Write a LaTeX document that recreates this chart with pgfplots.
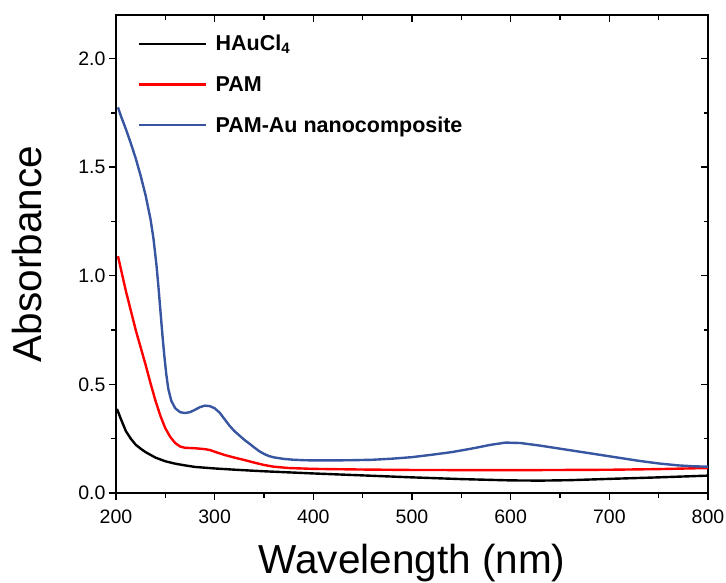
\documentclass[border=0pt]{standalone}
\usepackage{fontspec}
\setmainfont{Liberation Sans}
\usepackage{pgfplots}
\pgfplotsset{compat=1.18}
\definecolor{cblue}{RGB}{55,85,160}
\begin{document}
\begin{tikzpicture}
\begin{axis}[
  scale only axis, width=592pt, height=478pt,
  xmin=200, xmax=800, ymin=0, ymax=2.2,
  xtick={200,300,...,800}, ytick={0,0.5,...,2.0},
  minor x tick num=1, minor y tick num=1,
  xtick pos=left, ytick pos=left, tick align=outside,
  major tick length=7pt, minor tick length=4.5pt,
  axis line style={line width=1.6pt},
  every tick/.style={line width=1.5pt, black},
  /pgf/number format/assume math mode=true,
  ticklabel style={font=\fontsize{19.5}{21}\selectfont},
  yticklabel style={/pgf/number format/.cd, fixed, fixed zerofill, precision=1},
  xticklabel style={yshift=-6pt, /pgf/number format/.cd, fixed, precision=0},
  xlabel={Wavelength (nm)}, ylabel={Absorbance},
  label style={font=\fontsize{40.5}{42}\selectfont},
  xlabel style={at={(axis description cs:0.5,0)}, anchor=base, yshift=-80pt},
  ylabel style={at={(axis description cs:-0.125,0.5)}, anchor=base},
  legend style={at={(rel axis cs:0,1)}, anchor=north west, xshift=19pt, yshift=-16pt,
    draw=none, fill=none, font=\fontsize{21.5}{23}\selectfont\bfseries, row sep=20pt},
  legend cell align=left,
  legend image code/.code={\draw[#1] (0pt,0pt) -- (67pt,0pt); \path (73pt,0pt);},
]
\addplot[black, line width=2.4pt, line join=round] coordinates {
(201,0.387)(205,0.34)(210,0.285)(215,0.250)(220,0.222)(225,0.204)(230,0.188)(240,0.163)
(250,0.146)(260,0.135)(270,0.127)(280,0.120)(300,0.113)(325,0.106)(350,0.100)(400,0.090)
(450,0.081)(500,0.072)(550,0.064)(600,0.058)(630,0.057)(660,0.059)(700,0.065)(750,0.072)(800,0.080)};
\addlegendentry{HAuCl\textsubscript{4}}
\addplot[red, line width=2.4pt, line join=round] coordinates {
(202,1.09)(205,1.03)(210,0.93)(215,0.84)(220,0.75)(225,0.67)(230,0.59)(235,0.505)(240,0.425)
(245,0.355)(250,0.298)(255,0.258)(260,0.230)(265,0.214)(270,0.208)(280,0.206)(290,0.202)
(295,0.198)(300,0.190)(310,0.175)(320,0.163)(330,0.152)(340,0.140)(350,0.129)(360,0.121)
(375,0.115)(400,0.111)(450,0.108)(500,0.106)(600,0.105)(700,0.107)(750,0.110)(800,0.115)};
\addlegendentry{PAM}
\addplot[cblue, line width=2.4pt, line join=round] coordinates {
(202,1.775)(205,1.735)(210,1.675)(215,1.610)(220,1.540)(225,1.460)(230,1.370)(235,1.260)
(238,1.170)(241,1.050)(243,0.950)(245,0.840)(247,0.730)(249,0.630)(251,0.545)(253,0.480)
(256,0.425)(260,0.390)(265,0.372)(270,0.368)(275,0.372)(280,0.383)(285,0.395)(290,0.402)
(295,0.400)(300,0.390)(305,0.370)(310,0.340)(315,0.310)(320,0.285)(325,0.265)(330,0.245)
(335,0.228)(340,0.210)(345,0.193)(350,0.180)(355,0.170)(360,0.164)(370,0.157)(380,0.153)
(390,0.151)(400,0.150)(420,0.150)(440,0.151)(460,0.153)(480,0.158)(500,0.165)(520,0.176)
(540,0.188)(560,0.204)(580,0.222)(595,0.232)(610,0.230)(630,0.218)(650,0.204)(670,0.190)
(690,0.176)(710,0.162)(730,0.148)(750,0.136)(770,0.127)(785,0.123)(800,0.121)};
\addlegendentry{PAM-Au nanocomposite}
\end{axis}
\begin{axis}[
  scale only axis, width=592pt, height=478pt,
  xmin=200, xmax=800, ymin=0, ymax=2.2,
  xtick={200,300,...,800}, ytick={0,0.5,...,2.0},
  minor x tick num=1, minor y tick num=1,
  xtick pos=right, ytick pos=right, tick align=inside,
  major tick length=7pt, minor tick length=4.5pt,
  axis line style={draw=none},
  every tick/.style={line width=1.5pt, black},
  xticklabels={}, yticklabels={},
]
\end{axis}
\pgfresetboundingbox
\path[use as bounding box] ([shift={(-116pt,-89pt)}]current axis.south west) rectangle ([shift={(610pt,493pt)}]current axis.south west);
\end{tikzpicture}
\end{document}
